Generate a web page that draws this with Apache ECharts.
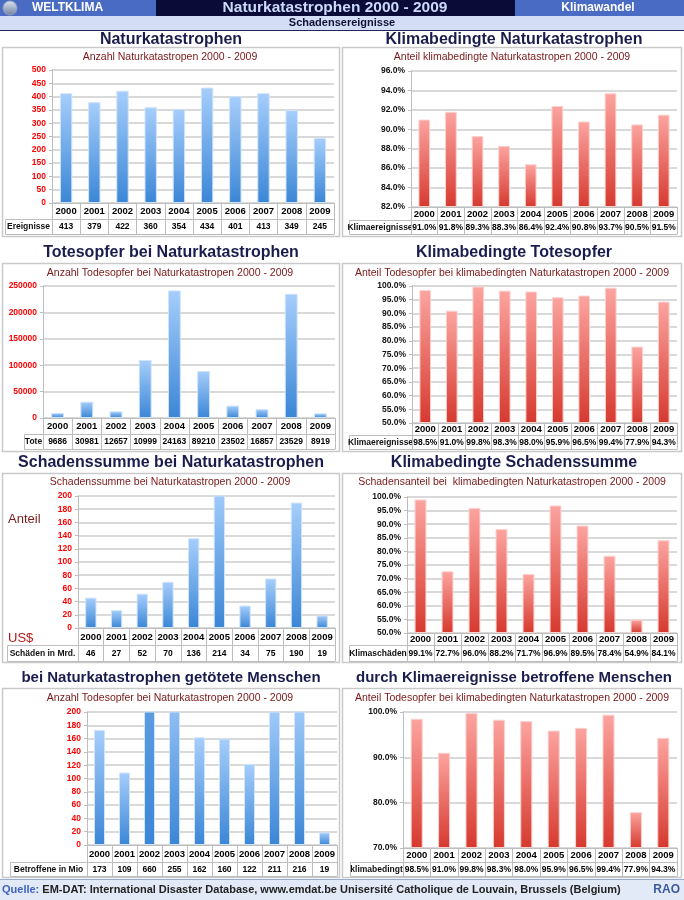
<!DOCTYPE html>
<html><head><meta charset="utf-8">
<script src="https://cdn.jsdelivr.net/npm/echarts@6/dist/echarts.min.js"></script>
<style>html,body{margin:0;padding:0;background:#fff}#c{width:684px;height:900px}</style>
</head><body><div id="c"></div><script>
// ---------- DATA ----------
const years = ['2000','2001','2002','2003','2004','2005','2006','2007','2008','2009'];
const ereignisse = [413, 379, 422, 360, 354, 434, 401, 413, 349, 245];
const klimaEreignisse = [91.0, 91.8, 89.3, 88.3, 86.4, 92.4, 90.8, 93.7, 90.5, 91.5];
const toteBars = [9686, 30981, 12657, 109999, 241630, 89210, 23502, 16857, 235290, 8919];
const toteTable = ['9686', '30981', '12657', '10999', '24163', '89210', '23502', '16857', '23529', '8919'];
const toteKlima = [98.5, 91.0, 99.8, 98.3, 98.0, 95.9, 96.5, 99.4, 77.9, 94.3];
const schaden = [46, 27, 52, 70, 136, 214, 34, 75, 190, 19];
const schadenKlima = [99.1, 72.7, 96.0, 88.2, 71.7, 96.9, 89.5, 78.4, 54.9, 84.1];
const betroffene = [173, 109, 660, 255, 162, 160, 122, 211, 216, 19];
const betroffenKlima = [98.5, 91.0, 99.8, 98.3, 98.0, 95.9, 96.5, 99.4, 77.9, 94.3];

const pct = v => v.toFixed(1) + '%';
const plain = v => String(v);

// ---------- LAYOUT ----------
const FONT = "'Liberation Sans', Arial, sans-serif";
const boxTop = [47, 263, 473, 688], boxBot = [236, 451, 662, 877];
const titleY = [40, 253, 463, 678], subY = [57, 273, 482, 698];
const titleSize = [16, 16, 16, 15];
const boxX = [[2, 339], [342, 681]], titleX = [171, 514], subX = [170, 512];

const panels = [
  {side:0,row:0,title:'Naturkatastrophen',sub:'Anzahl Naturkatastropen 2000 - 2009',data:ereignisse,table:ereignisse.map(plain),label:'Ereignisse',theme:'blue',min:0,max:500,interval:50,fmt:plain,g:[52,70,334],rows:[203,219,234],cellL:5},
  {side:1,row:0,title:'Klimabedingte Naturkatastrophen',sub:'Anteil klimabedingte Naturkatastropen 2000 - 2009',data:klimaEreignisse,table:klimaEreignisse.map(pct),label:'Klimaereignisse',theme:'red',min:82,max:96,interval:2,fmt:pct,g:[411,71,677],rows:[207,220,234],cellL:349},
  {side:0,row:1,title:'Totesopfer bei Naturkatastrophen',sub:'Anzahl Todesopfer bei Naturkatastropen 2000 - 2009',data:toteBars,table:toteTable,label:'Tote',theme:'blue',min:0,max:250000,interval:50000,fmt:plain,g:[43,286,335],rows:[418,434,449],cellL:24},
  {side:1,row:1,title:'Klimabedingte Totesopfer',sub:'Anteil Todesopfer bei klimabedingten Naturkatastropen 2000 - 2009',data:toteKlima,table:toteKlima.map(pct),label:'Klimaereignisse',theme:'red',min:50,max:100,interval:5,fmt:pct,g:[412,286,677],rows:[423,435,449],cellL:349},
  {side:0,row:2,title:'Schadenssumme bei Naturkatastrophen',sub:'Schadenssumme bei Naturkatastropen 2000 - 2009',data:schaden,table:schaden.map(plain),label:'Schäden in Mrd.',theme:'blue',min:0,max:200,interval:20,fmt:plain,g:[78,496,335],rows:[628,645,661],cellL:7},
  {side:1,row:2,title:'Klimabedingte Schadenssumme',sub:'Schadensanteil bei  klimabedingten Naturkatastropen 2000 - 2009',data:schadenKlima,table:schadenKlima.map(pct),label:'Klimaschäden',theme:'red',min:50,max:100,interval:5,fmt:pct,g:[407,497,677],rows:[633,645,661],cellL:349},
  {side:0,row:3,title:'bei Naturkatastrophen getötete Menschen',sub:'Anzahl Todesopfer bei Naturkatastropen 2000 - 2009',data:betroffene,table:betroffene.map(plain),label:'Betroffene in Mio',theme:'blue',min:0,max:200,interval:20,fmt:plain,g:[87,712,337],rows:[845,862,876],cellL:10},
  {side:1,row:3,title:'durch Klimaereignisse betroffene Menschen',sub:'Anteil Todesopfer bei klimabedingten Naturkatastropen 2000 - 2009',data:betroffenKlima,table:betroffenKlima.map(pct),label:'klimabedingt',theme:'red',min:70,max:100,interval:10,fmt:pct,g:[403,712,677],rows:[848,862,876],cellL:350}
];

const hex = h => [1,3,5].map(k => parseInt(h.substr(k,2),16));
const mix = (a, b, f) => { const A = hex(a), B = hex(b); return 'rgb(' + A.map((v,k) => Math.round(v + (B[k]-v)*f)).join(',') + ')'; };
const grad = (top, bottom) => ({type:'linear', x:0, y:0, x2:0, y2:1, colorStops:[{offset:0,color:top},{offset:1,color:bottom}]});
const themes = {
  blue: {top:'#a6cefb', bot:'#3b86d6', border:'#cfe3fb', ylab:'#ff0000'},
  red:  {top:'#fca4a0', bot:'#d6392e', border:'#fbd0cd', ylab:'#111'}
};
const LINE = '#bdbdbd';

const grid = [], xAxis = [], yAxis = [], series = [], els = [];

// header
els.push(
  {type:'rect', shape:{x:0,y:0,width:684,height:16}, style:{fill:'#4a6bc3'}},
  {type:'rect', shape:{x:156,y:0,width:359,height:16}, style:{fill:'#0b0b38'}},
  {type:'rect', shape:{x:0,y:16,width:684,height:14}, style:{fill:'#d3def6'}},
  {type:'rect', shape:{x:0,y:30,width:684,height:1}, style:{fill:'#22285a'}},
  {type:'circle', shape:{cx:10,cy:8,r:7}, style:{fill:grad('#dfe6f2','#6c7f9e'), stroke:'#8fa1c2'}},
  {type:'text', x:32, y:8, style:{text:'WELTKLIMA', fill:'#fff', fontSize:12, fontWeight:'bold', fontFamily:FONT, verticalAlign:'middle'}},
  {type:'text', x:335, y:8, style:{text:'Naturkatastrophen 2000 - 2009', fill:'#cbd9fb', fontSize:15.5, fontWeight:'bold', fontFamily:FONT, align:'center', verticalAlign:'middle'}},
  {type:'text', x:598, y:8, style:{text:'Klimawandel', fill:'#fff', fontSize:12, fontWeight:'bold', fontFamily:FONT, align:'center', verticalAlign:'middle'}},
  {type:'text', x:342, y:23, style:{text:'Schadensereignisse', fill:'#111236', fontSize:11, fontWeight:'bold', fontFamily:FONT, align:'center', verticalAlign:'middle'}}
);
// footer
els.push(
  {type:'rect', shape:{x:0,y:880,width:684,height:20}, style:{fill:'#e2e9f7'}},
  {type:'rect', shape:{x:0,y:879,width:684,height:1}, style:{fill:'#9aabcf'}},
  {type:'text', x:2, y:890, style:{text:'{a|Quelle:} EM-DAT: International Disaster Database, www.emdat.be Unisersité Catholique de Louvain, Brussels (Belgium)', fill:'#222', fontSize:11, fontWeight:'bold', fontFamily:FONT, verticalAlign:'middle', rich:{a:{fill:'#3f63c0', fontSize:11, fontWeight:'bold', fontFamily:FONT}}}},
  {type:'text', x:680, y:890, style:{text:'RAO', fill:'#3b5a9e', fontSize:12, fontWeight:'bold', fontFamily:FONT, align:'right', verticalAlign:'middle'}}
);
// extra labels
els.push(
  {type:'text', x:8, y:519, style:{text:'Anteil', fill:'#7a1b1b', fontSize:13, fontFamily:FONT, verticalAlign:'middle'}},
  {type:'text', x:8, y:638, style:{text:'US$', fill:'#b01818', fontSize:13, fontFamily:FONT, verticalAlign:'middle'}}
);

panels.forEach((p, i) => {
  const th = themes[p.theme];
  const [l, t, r] = p.g, [r0, r1, r2] = p.rows;
  const [bx0, bx1] = boxX[p.side];
  els.push(
    {type:'rect', shape:{x:bx0+0.5, y:boxTop[p.row]+0.5, width:bx1-bx0, height:boxBot[p.row]-boxTop[p.row]}, style:{fill:'none', stroke:'#c9c9c9', lineWidth:1.5}},
    {type:'text', x:titleX[p.side], y:titleY[p.row], style:{text:p.title, fill:'#1b1c4e', fontSize:titleSize[p.row], fontWeight:'bold', fontFamily:FONT, align:'center', verticalAlign:'middle'}},
    {type:'text', x:subX[p.side], y:subY[p.row], style:{text:p.sub, fill:'#7a1616', fontSize:10.5, fontFamily:FONT, align:'center', verticalAlign:'middle'}},
    {type:'rect', shape:{x:p.cellL+0.5, y:r1+0.5, width:l-p.cellL, height:r2-r1}, style:{fill:'none', stroke:LINE, lineWidth:1}},
    {type:'text', x:(p.cellL+l)/2, y:(r1+r2)/2+0.5, style:{text:p.label, fill:'#111', fontSize:8.5, fontWeight:'bold', fontFamily:FONT, align:'center', verticalAlign:'middle'}}
  );
  grid.push({left:l, top:t, width:r-l, height:r0-t, containLabel:false});
  const base = {gridIndex:i, type:'category', position:'bottom', boundaryGap:true};
  xAxis.push(
    Object.assign({}, base, {data:years,
      axisLine:{show:true, lineStyle:{color:LINE}},
      axisTick:{show:true, interval:0, length:r2-r0, lineStyle:{color:LINE}},
      axisLabel:{interval:0, color:'#000', fontSize:9.5, fontWeight:'bold', fontFamily:FONT, verticalAlign:'middle', margin:(r1-r0)/2+0.5}}),
    Object.assign({}, base, {data:p.table, offset:r1-r0,
      axisLine:{show:true, lineStyle:{color:LINE}}, axisTick:{show:false},
      axisLabel:{interval:0, color:'#000', fontSize:8.5, fontWeight:'bold', fontFamily:FONT, verticalAlign:'middle', margin:(r2-r1)/2+0.5}}),
    Object.assign({}, base, {data:years, offset:r2-r0,
      axisLine:{show:true, lineStyle:{color:LINE}}, axisTick:{show:false}, axisLabel:{show:false}})
  );
  yAxis.push({gridIndex:i, type:'value', min:p.min, max:p.max, interval:p.interval, startValue:p.min,
    axisLine:{show:true, lineStyle:{color:LINE}},
    axisTick:{show:true, length:3, lineStyle:{color:LINE}},
    splitLine:{show:true, lineStyle:{color:'#d9d9d9', width:2}},
    axisLabel:{color:th.ylab, fontSize:8.5, fontWeight:'bold', fontFamily:FONT, margin:6, formatter:p.fmt}});
  // bars taller than the axis are clipped: the visible part shows only the lower portion of the gradient
  const items = p.data.map(v => {
    const f = v > p.max ? 1 - (p.max - p.min) / (v - p.min) : 0;
    return {value:v, itemStyle:{color:grad(mix(th.top, th.bot, f), th.bot)}};
  });
  series.push({type:'bar', xAxisIndex:3*i, yAxisIndex:i, data:items, barWidth:'44%', clip:true,
    itemStyle:{borderColor:th.border, borderWidth:1}, silent:true});
});

const chart = echarts.init(document.getElementById('c'), null, {renderer:'canvas'});
chart.setOption({animation:false, backgroundColor:'#fff', grid, xAxis, yAxis, series, graphic:{elements:els}});
</script></body></html>
